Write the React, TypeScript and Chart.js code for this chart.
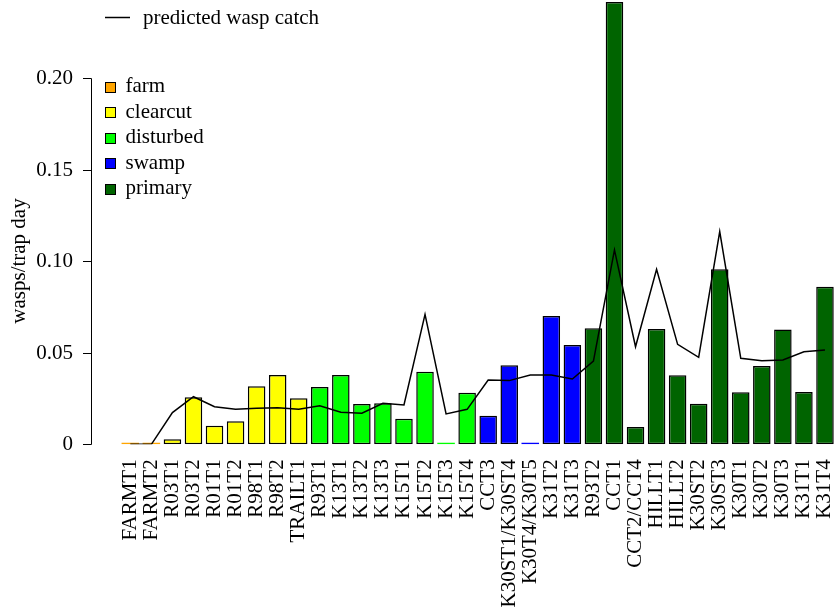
import React, { useEffect, useRef } from "react";
import { Chart, registerables } from "chart.js";

Chart.register(...registerables);

const categories = [
  "FARMT1", "FARMT2", "R03T1", "R03T2", "R01T1", "R01T2", "R98T1", "R98T2", "TRAILT1",
  "R93T1", "K13T1", "K13T2", "K13T3", "K15T1", "K15T2", "K15T3", "K15T4",
  "CCT3", "K30ST1/K30ST4", "K30T4/K30T5", "K31T2", "K31T3",
  "R93T2", "CCT1", "CCT2/CCT4", "HILLT1", "HILLT2", "K30ST2", "K30ST3", "K30T1", "K30T2", "K30T3", "K31T1", "K31T4",
];

const habitat = [
  "farm", "farm",
  "clearcut", "clearcut", "clearcut", "clearcut", "clearcut", "clearcut", "clearcut",
  "disturbed", "disturbed", "disturbed", "disturbed", "disturbed", "disturbed", "disturbed", "disturbed",
  "swamp", "swamp", "swamp", "swamp", "swamp",
  "primary", "primary", "primary", "primary", "primary", "primary", "primary", "primary", "primary", "primary", "primary", "primary",
];

const observedCatch = [
  0, 0, 0.0027, 0.0257, 0.0102, 0.0126, 0.0317, 0.0379, 0.0251,
  0.0313, 0.0379, 0.022, 0.0224, 0.014, 0.0397, 0, 0.0282,
  0.0156, 0.0432, 0, 0.0701, 0.0543,
  0.0634, 0.2417, 0.0095, 0.063, 0.0377, 0.0222, 0.0956, 0.0284, 0.0428, 0.0628, 0.0286, 0.0861,
];

const predictedCatch = [
  0, 0, 0.0173, 0.026, 0.0205, 0.0191, 0.0197, 0.02, 0.0191,
  0.021, 0.0175, 0.017, 0.0224, 0.0215, 0.071, 0.0166, 0.0191,
  0.0351, 0.0348, 0.0379, 0.0379, 0.0357,
  0.0455, 0.1062, 0.0533, 0.0956, 0.0546, 0.0475, 0.1162, 0.047, 0.0457, 0.0461, 0.0506, 0.0515,
];

const habitatNames = ["farm", "clearcut", "disturbed", "swamp", "primary"];
const habitatColors = ["#FFA500", "#FFFF00", "#00FF00", "#0000FF", "#006400"];

const yTickValues = [0, 0.05, 0.1, 0.15, 0.2];
const yTickLabels = ["0", "0.05", "0.10", "0.15", "0.20"];

const FONT = '"Liberation Serif", "Times New Roman", serif';
const FS = 21;

const colorFor = (i: number) => habitatColors[habitatNames.indexOf(habitat[i])];

const decorPlugin = {
  id: "decor",
  afterDraw(chart: any) {
    const ctx = chart.ctx as CanvasRenderingContext2D;
    const y = chart.scales.y;
    ctx.save();
    ctx.strokeStyle = "#000";
    ctx.fillStyle = "#000";
    ctx.lineWidth = 1;
    // y axis line
    const axX = 91.5;
    const yTop = Math.round(y.getPixelForValue(yTickValues[yTickValues.length - 1])) + 0.5;
    const yBot = Math.round(y.getPixelForValue(yTickValues[0])) + 0.5;
    ctx.beginPath();
    ctx.moveTo(axX, yTop);
    ctx.lineTo(axX, yBot);
    ctx.stroke();
    ctx.font = `${FS}px ${FONT}`;
    ctx.textAlign = "right";
    ctx.textBaseline = "middle";
    yTickValues.forEach((v, i) => {
      const py = Math.round(y.getPixelForValue(v)) + 0.5;
      ctx.beginPath();
      ctx.moveTo(axX - 8.5, py);
      ctx.lineTo(axX, py);
      ctx.stroke();
      ctx.fillText(yTickLabels[i], 73, py);
    });
    // y title
    ctx.save();
    ctx.translate(19, 261);
    ctx.rotate(-Math.PI / 2);
    ctx.textAlign = "center";
    ctx.textBaseline = "middle";
    ctx.fillText("wasps/trap day", 0, 0);
    ctx.restore();
    // line legend
    ctx.textAlign = "left";
    ctx.textBaseline = "middle";
    ctx.lineWidth = 1.5;
    ctx.beginPath();
    ctx.moveTo(105, 17.5);
    ctx.lineTo(130, 17.5);
    ctx.stroke();
    ctx.fillText("predicted wasp catch", 143, 18);
    // habitat legend
    ctx.lineWidth = 1;
    habitatNames.forEach((name, i) => {
      const cy = 86.5 + i * 25.6;
      ctx.fillStyle = habitatColors[i];
      ctx.fillRect(105.5, Math.round(cy - 5) + 0.5, 10, 10);
      ctx.strokeStyle = "#000";
      ctx.strokeRect(105.5, Math.round(cy - 5) + 0.5, 10, 10);
      ctx.fillStyle = "#000";
      ctx.fillText(name, 125.5, cy);
    });
    ctx.restore();
  },
};

export default function App() {
  const ref = useRef<HTMLCanvasElement>(null);
  useEffect(() => {
    if (!ref.current) return;
    const chart = new Chart(ref.current, {
      type: "bar",
      data: {
        labels: categories,
        datasets: [
          {
            type: "line",
            label: "predicted wasp catch",
            data: predictedCatch,
            borderColor: "#000",
            borderWidth: 1.5,
            pointRadius: 0,
            tension: 0,
            fill: false,
            order: 1,
          } as any,
          {
            type: "bar",
            label: "observed",
            data: observedCatch,
            backgroundColor: observedCatch.map((_, i) => colorFor(i)),
            borderColor: observedCatch.map((v, i) => (v === 0 ? colorFor(i) : "#000")),
            borderWidth: observedCatch.map((v) => (v === 0 ? 0 : 1.5)),
            borderSkipped: false,
            minBarLength: 1.5,
            barPercentage: 0.833,
            categoryPercentage: 1,
            order: 2,
          } as any,
        ],
      },
      options: {
        responsive: false,
        animation: false,
        devicePixelRatio: 1,
        layout: { padding: { left: 119.8, right: 4.5, top: 0, bottom: 0 } },
        plugins: { legend: { display: false }, tooltip: { enabled: false } },
        scales: {
          x: {
            offset: true,
            grid: { display: false, drawTicks: false },
            border: { display: false },
            ticks: {
              autoSkip: false,
              minRotation: 90,
              maxRotation: 90,
              padding: 15,
              color: "#000",
              font: { family: FONT, size: FS },
            },
            afterFit: (scale: any) => {
              scale.paddingLeft = 0;
              scale.paddingRight = 0;
              scale.height = 164.7;
            },
          },
          y: {
            display: false,
            min: 0,
            max: 0.2428,
          },
        },
      },
      plugins: [decorPlugin],
    });
    return () => chart.destroy();
  }, []);
  return (
    <div style={{ position: "absolute", left: 0, top: 0, width: 834, height: 609, overflow: "hidden", background: "#fff" }}>
      <canvas ref={ref} width={840} height={609} style={{ display: "block" }} />
    </div>
  );
}
